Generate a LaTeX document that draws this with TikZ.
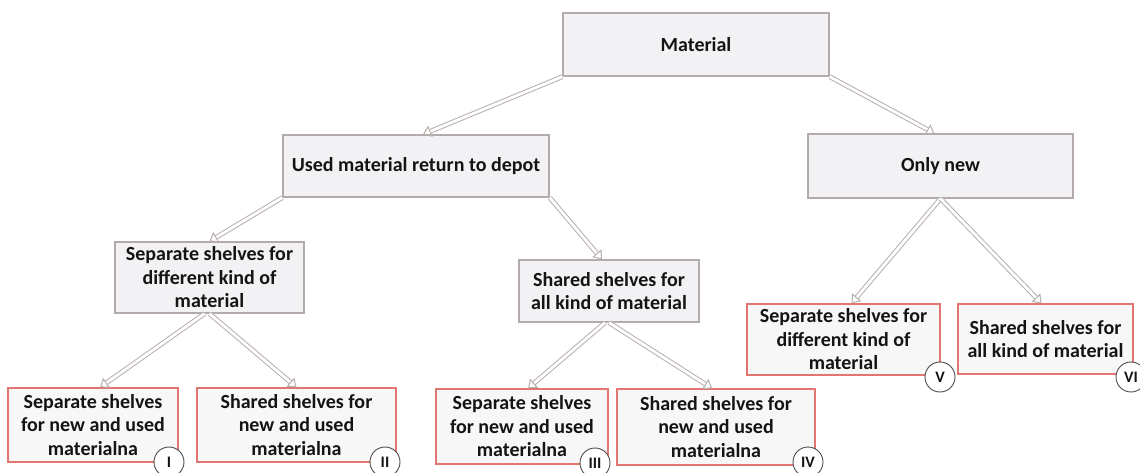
\documentclass[tikz,border=0pt]{standalone}
\usepackage{fontspec}
\setmainfont{Carlito}
\usetikzlibrary{arrows.meta,calc}
\definecolor{boxgray}{HTML}{B3AAAA}
\definecolor{boxfill}{HTML}{F2F2F4}
\definecolor{boxred}{HTML}{E27471}
\definecolor{arrgray}{HTML}{B8AFAF}
\definecolor{txt}{HTML}{141414}
\begin{document}
\begin{tikzpicture}[x=1pt,y=-1pt,
  every node/.style={font=\bfseries\fontsize{20}{23.5}\selectfont, text=txt, align=center, inner sep=0pt},
  graybox/.style={draw=boxgray, line width=1.3pt, fill=boxfill, rectangle},
  redbox/.style={draw=boxred, line width=1.3pt, fill=boxfill!60!white, rectangle},
  badge/.style={circle, draw=black!70, line width=0.9pt, fill=white, minimum size=30pt, font=\bfseries\fontsize{16}{16}\selectfont},
  conn/.style={draw=arrgray, line width=1pt, double=white, double distance=2.8pt,
     -{Triangle[open, width=12pt, length=8pt, line width=1pt]}}
]
\useasboundingbox (0,0) rectangle (1140,473);
\fill[white] (0,0) rectangle (1140,473);

\node[graybox, minimum width=266pt, minimum height=63pt] (mat) at (696,44.5) {Material};
\node[graybox, minimum width=266pt, minimum height=62pt] (used) at (416,166) {Used material return to depot};
\node[graybox, minimum width=265pt, minimum height=64pt] (onew) at (940.5,166) {Only new};
\node[graybox, minimum width=189pt, minimum height=71pt] (sepL) at (209.5,277.5) {Separate shelves for\\different kind of\\material};
\node[graybox, minimum width=180pt, minimum height=62pt] (shM) at (609,291) {Shared shelves for\\all kind of material};

\node[redbox, minimum width=170pt, minimum height=74pt] (b1) at (93,425) {Separate shelves\\for new and used\\materialna};
\node[redbox, minimum width=199pt, minimum height=74pt] (b2) at (296.5,425) {Shared shelves for\\new and used\\materialna};
\node[redbox, minimum width=172pt, minimum height=75pt] (b3) at (522,426.5) {Separate shelves\\for new and used\\materialna};
\node[redbox, minimum width=198pt, minimum height=76pt] (b4) at (716,427) {Shared shelves for\\new and used\\materialna};
\node[redbox, minimum width=193pt, minimum height=71pt] (b5) at (843.5,339.5) {Separate shelves for\\different kind of\\material};
\node[redbox, minimum width=175pt, minimum height=70pt] (b6) at (1045.5,339) {Shared shelves for\\all kind of material};

\node[badge] (c1) at (169,462) {I};
\node[badge] (c2) at (385,462) {II};
\node[badge] (c3) at (595,463) {III};
\node[badge] (c4) at (808,462) {IV};
\node[badge] (c5) at (940,377) {V};
\node[badge] (c6) at (1131,377) {VI};

\draw[conn] (mat.south west) -- ([xshift=7pt]used.north);
\draw[conn] (mat.south east) -- ([xshift=-6pt]onew.north);
\draw[conn] (used.south west) -- (sepL.north);
\draw[conn] (used.south east) -- ([xshift=-7pt]shM.north);
\draw[conn] ([xshift=-5pt]sepL.south) -- ([xshift=7pt]b1.north);
\draw[conn] (sepL.south) -- (b2.north);
\draw[conn] ([xshift=-4pt]shM.south) -- ([xshift=6pt]b3.north);
\draw[conn] (shM.south) -- ([xshift=-4pt]b4.north);
\draw[conn] (onew.south) -- ([xshift=8pt]b5.north);
\draw[conn] (onew.south) -- ([xshift=-4pt]b6.north);
\end{tikzpicture}
\end{document}
